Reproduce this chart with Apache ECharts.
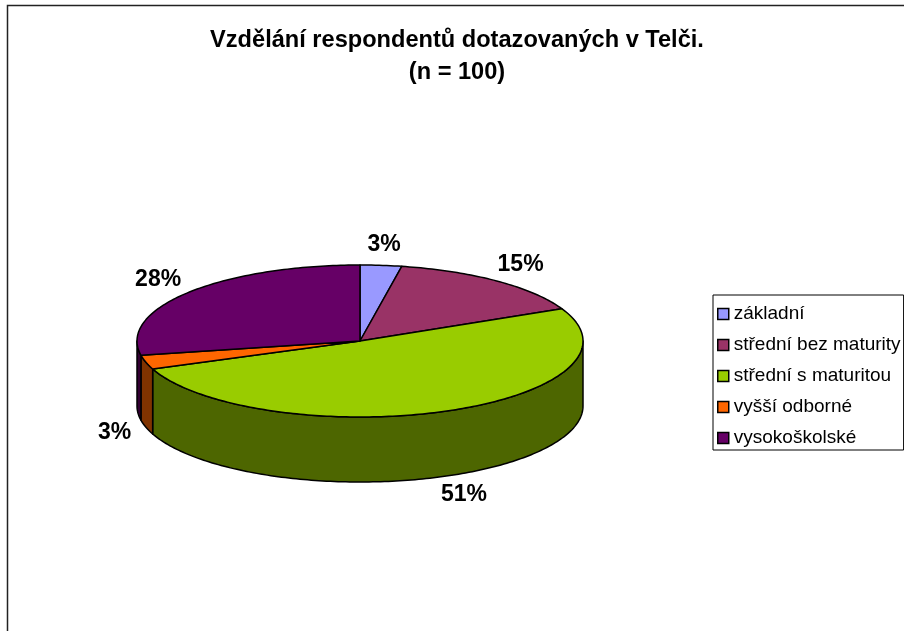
<!DOCTYPE html>
<html>
<head>
<meta charset="utf-8">
<script src="https://cdn.jsdelivr.net/npm/echarts@6/dist/echarts.min.js"></script>
<style>html,body{margin:0;padding:0;background:#fff}#main{width:904px;height:631px}</style>
</head>
<body>
<div id="main"></div>
<script>
var categories = ['základní', 'střední bez maturity', 'střední s maturitou', 'vyšší odborné', 'vysokoškolské'];
var shares = [3, 15, 51, 3, 28];
var topColors = ['#9999FF', '#993366', '#99CC00', '#FF6600', '#660066'];
var sideColors = ['#4D4D80', '#4D1A33', '#4D6600', '#803300', '#330033'];
var titleLines = ['Vzdělání respondentů dotazovaných v Telči.', '(n = 100)'];

// ellipse of the 3d pie
var cx = 360, cy = 341, rx = 223, ry = 76, depth = 65;
var total = shares.reduce(function (a, b) { return a + b; }, 0);
var font = 'Arial, "Liberation Sans", sans-serif';
var labelSize = 23;

function pt(deg, dy) {
    var r = deg * Math.PI / 180;
    return [cx + rx * Math.sin(r), cy - ry * Math.cos(r) + (dy || 0)];
}
function arc(a, b, dy) {
    var pts = [], n = Math.max(2, Math.ceil(b - a));
    for (var i = 0; i <= n; i++) pts.push(pt(a + (b - a) * i / n, dy));
    return pts;
}

function renderSlice(idx) {
    return function (params, api) {
        var before = 0;
        for (var i = 0; i < idx; i++) before += shares[i];
        var v = api.value(0);
        var a = before / total * 360, b = (before + v) / total * 360;
        var children = [];
        // front wall
        var s = Math.max(a, 90), e = Math.min(b, 270);
        if (e > s) {
            var up = arc(s, e, 0), down = arc(s, e, depth).reverse();
            children.push({
                type: 'polygon', shape: { points: up.concat(down) },
                style: { fill: sideColors[idx], stroke: '#000', lineWidth: 1.5, lineJoin: 'round' }
            });
        }
        children.push({
            type: 'polygon', shape: { points: [[cx, cy]].concat(arc(a, b, 0)) },
            style: { fill: topColors[idx], stroke: '#000', lineWidth: 1.5, lineJoin: 'round' }
        });
        // label: anchored just outside the rim, box pushed outward
        var txt = v + '%';
        var m = (a + b) / 2 * Math.PI / 180;
        var sn = Math.sin(m), cs = Math.cos(m);
        var w = labelSize * (0.556 * (txt.length - 1) + 0.889), h = 18;
        var lx = cx + (rx + 16) * sn + w / 2 * sn;
        var ly = cy - (ry + 12) * cs + (cs < 0 ? depth : 0) - h / 2 * cs;
        children.push({
            type: 'text', x: lx, y: ly,
            style: { text: txt, font: 'bold ' + labelSize + 'px ' + font, fill: '#000', align: 'center', verticalAlign: 'middle' }
        });
        return { type: 'group', children: children };
    };
}

var myChart = echarts.init(document.getElementById('main'));

var option = {
    backgroundColor: '#fff',
    animation: false,
    color: topColors,
    legend: {
        data: categories,
        orient: 'vertical',
        left: 713,
        top: 295,
        padding: [9, 3, 2, 4],
        itemGap: 11,
        itemWidth: 11,
        itemHeight: 11,
        icon: 'rect',
        borderColor: '#000',
        borderWidth: 1,
        itemStyle: { borderColor: '#000', borderWidth: 1.5 },
        textStyle: { fontFamily: font, fontSize: 19, lineHeight: 20, color: '#000' }
    },
    graphic: [{
        type: 'polyline',
        shape: { points: [[7.5, 631], [7.5, 5.5], [904, 5.5]] },
        style: { stroke: '#222', lineWidth: 1.5, fill: null }
    }, {
        type: 'text',
        x: 457, y: 24,
        style: {
            text: titleLines.join('\n'),
            font: 'bold 23.6px ' + font,
            lineHeight: 32,
            fill: '#000',
            align: 'center',
            verticalAlign: 'top'
        }
    }],
    series: categories.map(function (name, i) {
        return {
            type: 'custom',
            name: name,
            coordinateSystem: 'none',
            itemStyle: { color: topColors[i] },
            data: [[shares[i]]],
            renderItem: renderSlice(i)
        };
    })
};

myChart.setOption(option);
</script>
</body>
</html>
